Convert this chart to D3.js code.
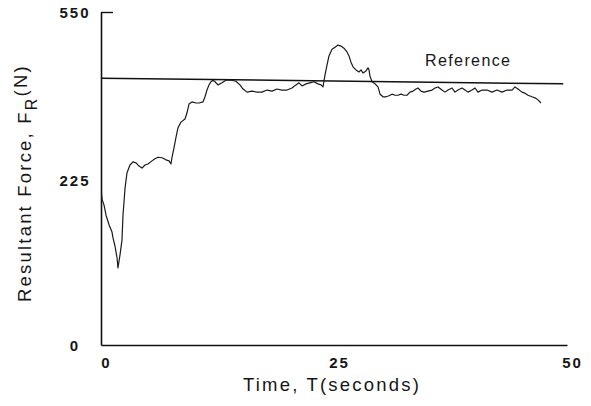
<!DOCTYPE html>
<html>
<head>
<meta charset="utf-8">
<script src="https://cdn.jsdelivr.net/npm/d3@7"></script>
<style>
  body { margin: 0; background: #fff; }
  svg text { font-family: "Liberation Sans", Arial, Helvetica, sans-serif; fill: #161616; }
</style>
</head>
<body>
<svg id="chart" width="591" height="406"></svg>
<script>
// resultant force trace, time in seconds / force in newtons
const timeSec = [
  0.05, 0.11, 0.32, 0.54, 0.86, 1.18, 1.29, 1.50, 1.72, 1.82,
  2.04, 2.25, 2.36, 2.58, 2.79, 3.11, 3.43, 3.76, 4.08, 4.40,
  4.72, 5.04, 5.47, 5.79, 6.12, 6.55, 6.97, 7.30, 7.51, 7.62,
  7.83, 8.05, 8.26, 8.58, 9.01, 9.23, 9.44, 9.76, 10.19, 10.52,
  10.94, 11.16, 11.37, 11.59, 11.80, 12.02, 12.23, 12.55, 12.98, 13.41,
  13.95, 14.48, 14.91, 15.24, 15.67, 16.20, 16.74, 17.27, 17.81, 18.35,
  18.88, 19.42, 19.96, 20.49, 20.92, 21.24, 21.57, 22.00, 22.42, 22.85,
  23.28, 23.61, 23.82, 24.03, 24.25, 24.46, 24.79, 25.11, 25.43, 25.75,
  26.07, 26.39, 26.61, 26.82, 27.04, 27.36, 27.68, 27.90, 28.11, 28.43,
  28.65, 28.76, 28.86, 29.08, 29.40, 29.72, 29.94, 30.26, 30.58, 30.90,
  31.22, 31.55, 31.87, 32.19, 32.51, 32.83, 33.15, 33.48, 33.80, 34.01,
  34.33, 34.66, 35.09, 35.52, 35.84, 36.16, 36.59, 36.91, 37.23, 37.66,
  37.98, 38.30, 38.73, 39.06, 39.38, 39.81, 40.13, 40.45, 40.88, 41.42,
  41.95, 42.49, 43.03, 43.56, 44.10, 44.42, 44.74, 45.17, 45.49, 45.82,
  46.24, 46.57, 46.89, 47.21
];
const forceN = [
  207, 199, 191, 177, 164, 154, 146, 135, 119, 105,
  123, 143, 177, 214, 239, 254, 260, 258, 252, 248,
  254, 256, 262, 266, 269, 268, 264, 262, 256, 269,
  287, 308, 326, 337, 343, 355, 372, 376, 374, 374,
  376, 386, 399, 409, 415, 418, 415, 409, 413, 418,
  418, 416, 409, 401, 395, 397, 395, 395, 399, 397,
  401, 399, 399, 403, 409, 413, 407, 411, 413, 415,
  411, 409, 405, 428, 447, 465, 478, 482, 486, 484,
  480, 473, 465, 453, 444, 438, 434, 438, 432, 436,
  442, 438, 426, 415, 411, 405, 391, 386, 386, 388,
  391, 389, 389, 391, 389, 389, 395, 397, 401, 403,
  397, 395, 397, 399, 403, 405, 399, 395, 399, 403,
  395, 399, 403, 399, 395, 399, 403, 395, 399, 399,
  395, 399, 395, 399, 399, 405, 401, 395, 393, 389,
  386, 384, 380, 374
];

// reference level, drawn end to end
const refTime = [0, 49.6];
const refForce = [422, 411];

const xTicks = [0, 25, 50];
const yTicks = [0, 225, 550];

const svg = d3.select("#chart");

const x = d3.scaleLinear().domain([0, 50]).range([101, 567]);
// axis is lettered 0 / 225 / 550 with 225 sitting halfway up
const y = d3.scaleLinear().domain([0, 225, 550]).range([345, 180, 12]);

// y axis
const yAxis = svg.append("g")
  .attr("transform", `translate(${x(0)},0)`)
  .call(d3.axisLeft(y).tickValues(yTicks).tickSize(0).tickPadding(0).tickFormat(d3.format("d")));
yAxis.select(".domain").attr("stroke", "#111").attr("stroke-width", 1.6);
yAxis.selectAll(".tick text")
  .attr("x", -26)
  .attr("text-anchor", "middle")
  .attr("dy", "0.36em")
  .style("font-size", "15px")
  .style("letter-spacing", "2px")
  .style("font-weight", "600");

// short tick pointing into the plot at the top
svg.append("g")
  .attr("transform", `translate(${x(0)},0)`)
  .call(d3.axisRight(y).tickValues([550]).tickSize(12).tickFormat(""))
  .call(g => g.select(".domain").remove())
  .selectAll("line").attr("stroke", "#111").attr("stroke-width", 1.4);

// x axis
const xAxis = svg.append("g")
  .attr("transform", `translate(0,${y(0)})`)
  .call(d3.axisBottom(x).tickValues(xTicks).tickSize(0).tickPadding(0).tickFormat(d3.format("d")));
xAxis.select(".domain").attr("stroke", "#111").attr("stroke-width", 1.6);
xAxis.selectAll(".tick text")
  .attr("x", 5)
  .attr("y", 12)
  .attr("dy", "0.71em")
  .style("font-size", "15px")
  .style("letter-spacing", "2px")
  .style("font-weight", "600");

// reference level
const refData = d3.zip(refTime, refForce);
svg.append("path")
  .datum(refData)
  .attr("fill", "none")
  .attr("stroke", "#111")
  .attr("stroke-width", 1.5)
  .attr("d", d3.line().x(d => x(d[0])).y(d => y(d[1])));

svg.append("text")
  .attr("x", x(39.4))
  .attr("y", y(446))
  .attr("text-anchor", "middle")
  .style("font-size", "16px")
  .style("letter-spacing", "1.4px")
  .text("Reference");

// measured force
const trace = d3.zip(timeSec, forceN);
svg.append("path")
  .datum(trace)
  .attr("fill", "none")
  .attr("stroke", "#1a1a1a")
  .attr("stroke-width", 1.2)
  .attr("stroke-linejoin", "round")
  .attr("d", d3.line().x(d => x(d[0])).y(d => y(d[1])));

// axis titles
svg.append("text")
  .attr("x", 332)
  .attr("y", 391)
  .attr("text-anchor", "middle")
  .style("font-size", "18.5px")
  .style("letter-spacing", "2.2px")
  .text("Time, T(seconds)");

const yTitle = svg.append("text")
  .attr("transform", "translate(31,302) rotate(-90)")
  .style("font-size", "18.5px")
  .style("letter-spacing", "2.2px");
yTitle.append("tspan").text("Resultant Force, F");
yTitle.append("tspan").attr("dy", 6).style("font-size", "16px").text("R");
yTitle.append("tspan").attr("dy", -10).text("(N)");
</script>
</body>
</html>
